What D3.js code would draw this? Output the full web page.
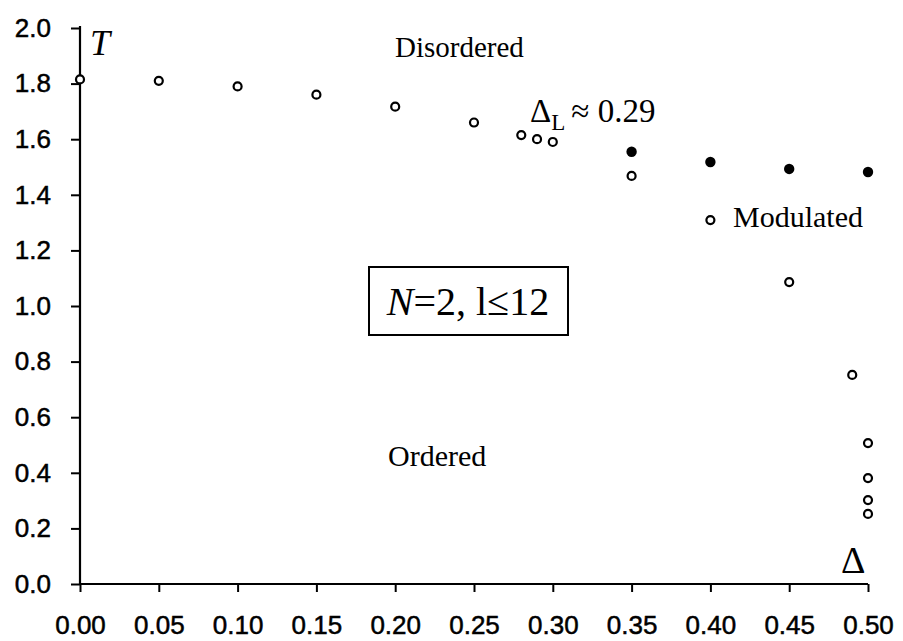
<!DOCTYPE html>
<html>
<head>
<meta charset="utf-8">
<script src="https://cdn.jsdelivr.net/npm/d3@7"></script>
<style>
  html, body { margin: 0; padding: 0; background: #fff; }
  svg { display: block; }
  .tick text { font-family: "Liberation Sans", Arial, sans-serif; font-size: 26px; fill: #000; stroke: #000; stroke-width: 0.5px; }
  .lbl { font-family: "Liberation Serif", "Times New Roman", serif; fill: #000; }
</style>
</head>
<body>
<svg id="chart" width="903" height="641"></svg>
<script>
// open circles: second-order transition line
const openDelta = [0.00, 0.05, 0.10, 0.15, 0.20, 0.25, 0.28, 0.29, 0.30, 0.35, 0.40, 0.45, 0.49, 0.50, 0.50, 0.50, 0.50];
const openT     = [1.815, 1.81, 1.79, 1.76, 1.717, 1.66, 1.615, 1.60, 1.59, 1.468, 1.309, 1.086, 0.752, 0.507, 0.381, 0.302, 0.252];
// filled circles: disordered / modulated boundary
const fillDelta = [0.35, 0.40, 0.45, 0.50];
const fillT     = [1.555, 1.518, 1.493, 1.482];

const xTicks = [0, 0.05, 0.10, 0.15, 0.20, 0.25, 0.30, 0.35, 0.40, 0.45, 0.50];
const yTicks = [0, 0.2, 0.4, 0.6, 0.8, 1.0, 1.2, 1.4, 1.6, 1.8, 2.0];

const svg = d3.select("#chart");
const x = d3.scaleLinear().domain([0, 0.5]).range([80, 868]);
const y = d3.scaleLinear().domain([0, 2]).range([584, 28]);

// axes
const xAxis = svg.append("g").attr("transform", `translate(0,${y(0)})`)
  .call(d3.axisBottom(x).tickValues(xTicks).tickFormat(d3.format(".2f")).tickSize(8).tickSizeOuter(0));
const yAxis = svg.append("g").attr("transform", `translate(${x(0)},0)`)
  .call(d3.axisLeft(y).tickValues(yTicks).tickFormat(d3.format(".1f")).tickSize(9).tickSizeOuter(0).tickPadding(20));
[xAxis, yAxis].forEach(a => {
  a.select(".domain").attr("stroke", "#000").attr("stroke-width", 2.2);
  a.selectAll(".tick line").attr("stroke", "#000").attr("stroke-width", 2);
});
// baseline of x labels around y=634
xAxis.selectAll(".tick text").attr("dy", null).attr("y", 50);
xAxis.select(".domain").attr("d", `M${x(0)},0H${x(0.5)}`);
yAxis.select(".domain").attr("d", `M0,${y(0)}V${y(2) - 2}`);

// points
const openPts = openDelta.map((d, i) => ({ d, t: openT[i] }));
const fillPts = fillDelta.map((d, i) => ({ d, t: fillT[i] }));

svg.append("g").selectAll("circle").data(openPts).enter().append("circle")
  .attr("cx", p => x(p.d)).attr("cy", p => y(p.t)).attr("r", 4)
  .attr("fill", "#fff").attr("stroke", "#000").attr("stroke-width", 2.2);

svg.append("g").selectAll("circle").data(fillPts).enter().append("circle")
  .attr("cx", p => x(p.d)).attr("cy", p => y(p.t)).attr("r", 5.2)
  .attr("fill", "#000");

// labels
svg.append("text").attr("class", "lbl").attr("x", 90).attr("y", 55)
  .style("font-size", "36px").style("font-style", "italic").text("T");
svg.append("text").attr("class", "lbl").attr("x", 395).attr("y", 57)
  .style("font-size", "29px").text("Disordered");

const dl = svg.append("text").attr("class", "lbl").attr("x", 530).attr("y", 122).style("font-size", "33px");
dl.append("tspan").text("Δ");
dl.append("tspan").attr("dy", 8).style("font-size", "23px").text("L");
dl.append("tspan").attr("dy", -8).attr("dx", 6).text("≈ 0.29");

svg.append("text").attr("class", "lbl").attr("x", 733).attr("y", 227)
  .style("font-size", "30px").text("Modulated");
svg.append("text").attr("class", "lbl").attr("x", 388).attr("y", 466)
  .style("font-size", "30px").text("Ordered");
svg.append("text").attr("class", "lbl").attr("x", 841).attr("y", 573)
  .style("font-size", "38px").text("Δ");

// box label
svg.append("rect").attr("x", 369).attr("y", 267).attr("width", 199).attr("height", 68)
  .attr("fill", "none").attr("stroke", "#000").attr("stroke-width", 2);
const bt = svg.append("text").attr("class", "lbl").attr("x", 468).attr("y", 315)
  .attr("text-anchor", "middle").style("font-size", "40px");
bt.append("tspan").style("font-style", "italic").text("N");
bt.append("tspan").text("=2, l≤12");
</script>
</body>
</html>
